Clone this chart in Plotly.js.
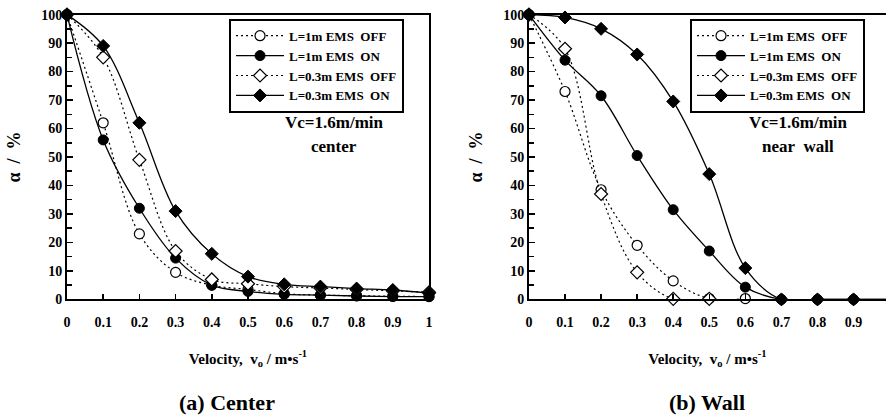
<!DOCTYPE html>
<html>
<head>
<meta charset="utf-8">
<script src="https://cdn.plot.ly/plotly-3.0.1.min.js"></script>
<style>html,body{margin:0;padding:0;background:#fff;}#chart{width:886px;height:417px;}</style>
</head>
<body>
<div id="chart"></div>
<script>
// ---- data ----
var velocity = [0, 0.1, 0.2, 0.3, 0.4, 0.5, 0.6, 0.7, 0.8, 0.9, 1.0];

// (a) Center
var center1mOff  = [100, 62, 23, 9.5, 5, 3.5, 2, 1.5, 1.3, 1.1, 1];
var center1mOn   = [100, 56, 32, 14.5, 5, 2.8, 1.8, 1.5, 1.2, 1, 1];
var center03Off  = [100, 85, 49, 17, 7, 5.5, 4.5, 4, 3.5, 3, 2.5];
var center03On   = [100, 89, 62, 31, 16, 8, 5.3, 4.5, 3.8, 3.3, 2.2];

// (b) Wall
var wallX1mOff   = [0, 0.1, 0.2, 0.3, 0.4, 0.5, 0.6];
var wall1mOff    = [100, 73, 38.5, 19, 6.5, 0.3, 0.3];
var wallX03Off   = [0, 0.1, 0.2, 0.3, 0.4, 0.5];
var wall03Off    = [100, 88, 37, 9.5, 0.2, 0.2];
var wall1mOn     = [100, 84, 71.5, 50.5, 31.5, 17, 4.3, 0, 0, 0, 0];
var wall03On     = [100, 99, 95, 86, 69.5, 44, 11, 0, 0, 0, 0];

var seriesNames = ["L=1m EMS\u00a0\u00a0OFF", "L=1m EMS\u00a0\u00a0ON", "L=0.3m EMS\u00a0\u00a0OFF", "L=0.3m EMS\u00a0\u00a0ON"];
var xTicks = [0, 0.1, 0.2, 0.3, 0.4, 0.5, 0.6, 0.7, 0.8, 0.9, 1];
var xTickText = ["0", "0.1", "0.2", "0.3", "0.4", "0.5", "0.6", "0.7", "0.8", "0.9", "1"];

// ---- styles ----
var FONT = "Liberation Serif, Times New Roman, serif";
var styles = [
  {line: {color: "#000", width: 1.2, dash: "2px,3px", shape: "spline", smoothing: 1}, marker: {symbol: "circle", size: 10, color: "#fff", line: {color: "#000", width: 1.2}}},
  {line: {color: "#000", width: 1.3, dash: "solid", shape: "spline", smoothing: 1}, marker: {symbol: "circle", size: 10, color: "#000", line: {color: "#000", width: 1}}},
  {line: {color: "#000", width: 1.2, dash: "2px,3px", shape: "spline", smoothing: 1}, marker: {symbol: "diamond", size: 10, color: "#fff", line: {color: "#000", width: 1.2}}},
  {line: {color: "#000", width: 1.3, dash: "solid", shape: "spline", smoothing: 1}, marker: {symbol: "diamond", size: 10, color: "#000", line: {color: "#000", width: 1}}}
];

function mk(x, y, i, xa, ya, leg) {
  return {
    type: "scatter", mode: "lines+markers", x: x, y: y, name: seriesNames[i],
    xaxis: xa, yaxis: ya, legend: leg, cliponaxis: false,
    line: styles[i].line, marker: styles[i].marker
  };
}

var traces = [
  mk(velocity, center1mOff, 0, "x", "y", "legend"),
  mk(velocity, center1mOn, 1, "x", "y", "legend"),
  mk(velocity, center03Off, 2, "x", "y", "legend"),
  mk(velocity, center03On, 3, "x", "y", "legend"),
  mk(wallX1mOff, wall1mOff, 0, "x2", "y2", "legend2"),
  mk(velocity, wall1mOn, 1, "x2", "y2", "legend2"),
  mk(wallX03Off, wall03Off, 2, "x2", "y2", "legend2"),
  mk(velocity, wall03On, 3, "x2", "y2", "legend2")
];

var tickFont = {family: FONT, size: 14, color: "#000", weight: "bold"};
var titleFont = {family: FONT, size: 15, color: "#000", weight: "bold"};
var xTitle = "Velocity,\u00a0\u00a0v<sub>o</sub> / m\u2022s<sup>-1</sup>";

function xax(domain, range) {
  return {
    domain: domain, range: range, showgrid: false, zeroline: false,
    showline: true, linecolor: "#000", linewidth: 2, mirror: true,
    ticks: "inside", ticklen: 5, tickwidth: 1.5, tickcolor: "#000",
    tickvals: xTicks, ticktext: xTickText, tickfont: tickFont, ticklabelstandoff: 9,
    title: {text: xTitle, font: titleFont, standoff: 24}
  };
}
function yax(anchor, mirror) {
  return {
    domain: [0.282, 0.965], range: [0, 100], anchor: anchor, showgrid: false, zeroline: false,
    showline: true, linecolor: "#000", linewidth: 2, mirror: mirror,
    ticks: "inside", ticklen: 6, tickwidth: 1.5, tickcolor: "#000", dtick: 10,
    minor: {dtick: 5, ticks: "inside", ticklen: 5, tickwidth: 1.5, tickcolor: "#000"},
    tickfont: tickFont,
    title: {text: "\u03b1\u00a0\u00a0/\u00a0\u00a0%", font: {family: FONT, size: 18, color: "#000", weight: "bold"}, standoff: 16}
  };
}

var legendBase = {
  bgcolor: "#fff", bordercolor: "#000", borderwidth: 2,
  font: {family: FONT, size: 13, color: "#000", weight: "bold"},
  xanchor: "left", yanchor: "top", traceorder: "normal",
  itemwidth: 48, tracegroupgap: 0
};

var annFont = {family: FONT, size: 17, color: "#000", weight: "bold"};
var capFont = {family: FONT, size: 22, color: "#000", weight: "bold"};

function ann(x, y, text, font) {
  return {xref: "paper", yref: "paper", x: x / 886, y: 1 - y / 417, text: text, showarrow: false,
          font: font, xanchor: "center", yanchor: "middle"};
}

var layout = {
  width: 886, height: 417,
  margin: {l: 0, r: 0, t: 0, b: 0},
  paper_bgcolor: "#fff", plot_bgcolor: "#fff",
  showlegend: true,
  xaxis: Object.assign(xax([0.0756, 0.4842], [0, 1]), {anchor: "y"}),
  yaxis: yax("x", true),
  xaxis2: Object.assign(xax([0.597, 1], [0, 0.99]), {anchor: "y2"}),
  yaxis2: yax("x2", false),
  legend: Object.assign({}, legendBase, {x: 0.2585, y: 0.955}),
  legend2: Object.assign({}, legendBase, {x: 0.7788, y: 0.955}),
  annotations: [
    ann(334, 123, "Vc=1.6m/min", annFont),
    ann(334, 146, "center", annFont),
    ann(798, 123, "Vc=1.6m/min", annFont),
    ann(798, 146, "near\u00a0\u00a0wall", annFont),
    ann(227, 402, "(a) Center", capFont),
    ann(707, 402, "(b) Wall", capFont)
  ]
};

Plotly.newPlot("chart", traces, layout, {staticPlot: true, displayModeBar: false});
</script>
</body>
</html>
